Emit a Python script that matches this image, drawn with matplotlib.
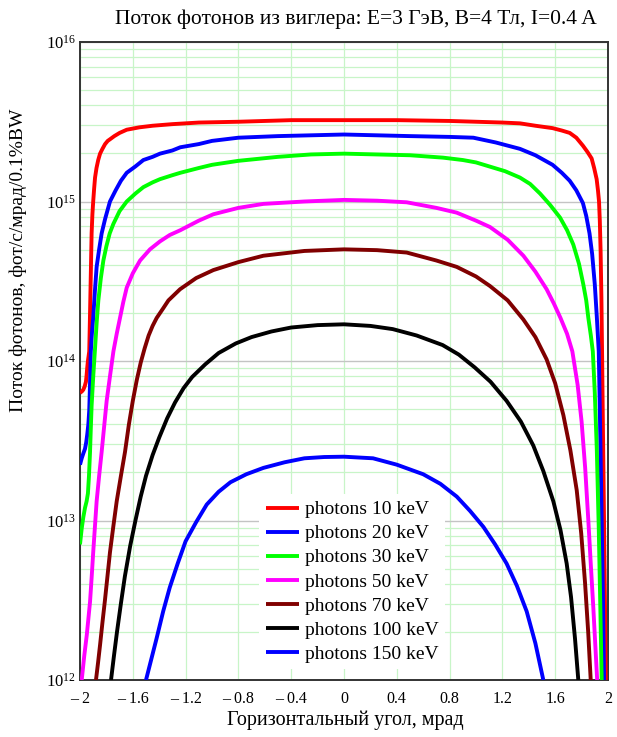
import numpy as np
import matplotlib
matplotlib.use("Agg")
import matplotlib.pyplot as plt
from matplotlib.ticker import LogLocator, NullFormatter

plt.rcParams['font.family'] = ['Liberation Serif', 'DejaVu Serif']
plt.rcParams['mathtext.fontset'] = 'custom'
plt.rcParams['mathtext.rm'] = 'Liberation Serif'
plt.rcParams['mathtext.it'] = 'Liberation Serif:italic'

# ---- data: horizontal angle (mrad) and log10(flux) ----
x_10 = [-2.0, -1.985, -1.975, -1.965, -1.955, -1.95, -1.945, -1.94, -1.935, -1.93, -1.924, -1.918, -1.912, -1.906,
        -1.9, -1.893, -1.886, -1.875, -1.862, -1.848, -1.83, -1.81, -1.79, -1.773, -1.74, -1.7, -1.646, -1.55,
        -1.45, -1.3, -1.1, -0.8, -0.4, 0.0, 0.4, 0.8, 1.0, 1.2, 1.333, 1.45, 1.58, 1.65, 1.71, 1.76, 1.81, 1.845,
        1.876, 1.895, 1.914, 1.924, 1.932, 1.938, 1.944, 1.95, 1.955, 1.962, 1.97, 1.977, 1.983]
lg_10 = [13.80, 13.81, 13.82, 13.84, 13.87, 13.91, 13.96, 14.0, 14.03, 14.06, 14.3, 14.55, 14.80, 14.92,
         15.0, 15.08, 15.15, 15.21, 15.26, 15.30, 15.33, 15.36, 15.38, 15.39, 15.41, 15.43, 15.45, 15.465,
         15.475, 15.485, 15.495, 15.50, 15.51, 15.51, 15.51, 15.505, 15.50, 15.495, 15.49, 15.475, 15.46, 15.445,
         15.43, 15.40, 15.35, 15.31, 15.27, 15.21, 15.14, 15.07, 15.0, 14.88, 14.69, 14.4, 14.06, 13.55, 13.0,
         12.5, 12.0]

x_20 = [-2.0, -1.987, -1.975, -1.962, -1.953, -1.945, -1.937, -1.93, -1.924, -1.918, -1.91, -1.9, -1.887, -1.874,
        -1.855, -1.836, -1.81, -1.773, -1.73, -1.69, -1.646, -1.58, -1.52, -1.45, -1.394, -1.3, -1.24, -1.1, -1.0,
        -0.8, -0.5, 0.0, 0.5, 0.8, 0.98, 1.15, 1.333, 1.45, 1.58, 1.65, 1.71, 1.76, 1.81, 1.835, 1.86, 1.88, 1.90,
        1.915, 1.93, 1.94, 1.952, 1.962, 1.97]
lg_20 = [13.35, 13.39, 13.42, 13.45, 13.49, 13.54, 13.60, 13.69, 13.86, 14.06, 14.17, 14.27, 14.44, 14.59,
         14.70, 14.80, 14.89, 15.0, 15.07, 15.13, 15.18, 15.22, 15.26, 15.28, 15.30, 15.32, 15.34, 15.36, 15.38,
         15.40, 15.41, 15.42, 15.41, 15.405, 15.40, 15.37, 15.33, 15.29, 15.23, 15.18, 15.13, 15.07, 14.99, 14.91,
         14.80, 14.67, 14.48, 14.28, 14.06, 13.6, 13.0, 12.5, 12.0]

x_30 = [-2.0, -1.987, -1.975, -1.962, -1.95, -1.94, -1.932, -1.924, -1.918, -1.912, -1.9, -1.886, -1.873, -1.861,
        -1.842, -1.823, -1.8, -1.775, -1.747, -1.7, -1.646, -1.58, -1.52, -1.45, -1.394, -1.3, -1.24, -1.1, -1.0,
        -0.8, -0.5, -0.25, 0.0, 0.25, 0.5, 0.75, 0.9, 1.0, 1.1, 1.22, 1.333, 1.41, 1.485, 1.56, 1.636, 1.69, 1.737,
        1.78, 1.813, 1.835, 1.851, 1.87, 1.885, 1.9, 1.915, 1.93, 1.942, 1.952]
lg_30 = [12.85, 12.95, 13.02, 13.08, 13.12, 13.17, 13.28, 13.43, 13.58, 13.72, 13.90, 14.08, 14.25, 14.38,
         14.52, 14.63, 14.72, 14.80, 14.86, 14.94, 15.0, 15.05, 15.09, 15.12, 15.14, 15.165, 15.18, 15.21, 15.23,
         15.255, 15.28, 15.295, 15.30, 15.295, 15.29, 15.275, 15.26, 15.245, 15.22, 15.19, 15.15, 15.11, 15.05,
         14.98, 14.90, 14.82, 14.73, 14.61, 14.48, 14.38, 14.27, 14.16, 14.06, 13.8, 13.45, 12.95, 12.45, 12.0]

x_50 = [-1.987, -1.968, -1.949, -1.937, -1.924, -1.912, -1.9, -1.887, -1.874, -1.855, -1.836, -1.817, -1.798,
        -1.772, -1.747, -1.722, -1.697, -1.672, -1.646, -1.6, -1.545, -1.47, -1.394, -1.32, -1.24, -1.1, -0.99,
        -0.8, -0.611, -0.3, 0.0, 0.25, 0.475, 0.7, 0.854, 1.0, 1.106, 1.24, 1.359, 1.45, 1.535, 1.59, 1.64, 1.69,
        1.73, 1.77, 1.80, 1.827, 1.851, 1.87, 1.889, 1.905, 1.918]
lg_50 = [12.0, 12.15, 12.28, 12.38, 12.49, 12.64, 12.80, 12.96, 13.12, 13.28, 13.43, 13.59, 13.75,
         13.91, 14.06, 14.17, 14.27, 14.37, 14.46, 14.55, 14.63, 14.70, 14.75, 14.79, 14.82, 14.88, 14.92,
         14.96, 14.985, 15.0, 15.01, 15.005, 14.995, 14.96, 14.93, 14.88, 14.84, 14.76, 14.66, 14.56, 14.45, 14.36,
         14.27, 14.17, 14.06, 13.85, 13.62, 13.33, 13.0, 12.72, 12.45, 12.2, 12.0]

x_70 = [-1.879, -1.863, -1.848, -1.83, -1.811, -1.792, -1.773, -1.748, -1.722, -1.69, -1.659, -1.63, -1.6, -1.57,
        -1.54, -1.51, -1.48, -1.45, -1.419, -1.37, -1.33, -1.242, -1.12, -0.99, -0.8, -0.611, -0.3, 0.0, 0.25,
        0.475, 0.7, 0.854, 1.0, 1.106, 1.24, 1.359, 1.45, 1.535, 1.6, 1.662, 1.715, 1.763, 1.797, 1.826, 1.85,
        1.869]
lg_70 = [12.0, 12.11, 12.22, 12.36, 12.5, 12.65, 12.80, 12.96, 13.12, 13.28, 13.43, 13.6, 13.75, 13.88,
         13.99, 14.08, 14.16, 14.22, 14.27, 14.33, 14.38, 14.45, 14.52, 14.57, 14.62, 14.66, 14.69, 14.70, 14.695,
         14.68, 14.63, 14.59, 14.53, 14.47, 14.38, 14.26, 14.15, 14.01, 13.86, 13.66, 13.44, 13.19, 12.92, 12.61,
         12.3, 12.0]

x_100 = [-1.765, -1.743, -1.72, -1.69, -1.66, -1.62, -1.58, -1.54, -1.5, -1.45, -1.4, -1.34, -1.28, -1.215, -1.15,
         -1.05, -0.95, -0.82, -0.7, -0.55, -0.4, -0.2, 0.0, 0.2, 0.369, 0.55, 0.747, 0.87, 0.99, 1.11, 1.232, 1.34,
         1.434, 1.51, 1.586, 1.64, 1.687, 1.72, 1.75, 1.775]
lg_100 = [12.0, 12.15, 12.3, 12.48, 12.65, 12.84, 13.0, 13.15, 13.28, 13.41, 13.52, 13.64, 13.74, 13.83, 13.9,
          13.98, 14.05, 14.11, 14.15, 14.185, 14.21, 14.225, 14.23, 14.22, 14.20, 14.16, 14.10, 14.04, 13.96, 13.87,
          13.75, 13.62, 13.47, 13.31, 13.12, 12.94, 12.73, 12.52, 12.26, 12.0]

x_150 = [-1.5, -1.46, -1.42, -1.37, -1.32, -1.26, -1.2, -1.12, -1.04, -0.95, -0.86, -0.74, -0.61, -0.45, -0.3,
         -0.15, 0.0, 0.22, 0.4, 0.6, 0.73, 0.854, 0.955, 1.056, 1.145, 1.232, 1.31, 1.384, 1.45, 1.51]
lg_150 = [12.0, 12.13, 12.26, 12.43, 12.58, 12.73, 12.87, 12.99, 13.10, 13.18, 13.24, 13.29, 13.33, 13.365, 13.39,
          13.398, 13.40, 13.39, 13.35, 13.29, 13.23, 13.15, 13.06, 12.96, 12.85, 12.73, 12.59, 12.43, 12.23, 12.0]

series_labels = ['photons 10 keV', 'photons 20 keV', 'photons 30 keV', 'photons 50 keV',
                 'photons 70 keV', 'photons 100 keV', 'photons 150 keV']
series_colors = ['#ff0000', '#0000ff', '#00ff00', '#ff00ff', '#800000', '#000000', '#0000ff']

x_ticks = [-2.0, -1.6, -1.2, -0.8, -0.4, 0.0, 0.4, 0.8, 1.2, 1.6, 2.0]
x_ticklabels = ['– 2', '– 1.6', '– 1.2', '– 0.8', '– 0.4', '0', '0.4', '0.8', '1.2', '1.6', '2']
y_ticks = [1e12, 1e13, 1e14, 1e15, 1e16]
y_ticklabels = [r'$10^{12}$', r'$10^{13}$', r'$10^{14}$', r'$10^{15}$', r'$10^{16}$']

xs = [x_10, x_20, x_30, x_50, x_70, x_100, x_150]
lgs = [lg_10, lg_20, lg_30, lg_50, lg_70, lg_100, lg_150]

W, H = 617, 737
fig = plt.figure(figsize=(W / 100, H / 100), dpi=100)
L, R, T, B = 80, 608, 42, 680
ax = fig.add_axes([L / W, 1 - B / H, (R - L) / W, (B - T) / H])

ax.set_yscale('log')
ax.set_xlim(-2, 2)
ax.set_ylim(1e12, 1e16)

handles = []
for x, lg, lab, col in zip(xs, lgs, series_labels, series_colors):
    h, = ax.plot(x, 10 ** np.array(lg), color=col, lw=2.8, label=lab,
                 solid_joinstyle='round', solid_capstyle='butt', zorder=3)
    handles.append(h)

# grid
ax.set_xticks(x_ticks)
ax.set_xticklabels(x_ticklabels, fontsize=11.5)
ax.set_yticks(y_ticks)
ax.set_yticklabels(y_ticklabels, fontsize=12)
ax.yaxis.set_minor_locator(LogLocator(base=10, subs=np.arange(2, 10), numticks=50))
ax.yaxis.set_minor_formatter(NullFormatter())
ax.grid(True, which='major', axis='x', color='#c8f5c8', lw=0.9, zorder=0)
ax.grid(True, which='major', axis='y', color='#c4c4c4', lw=1.0, zorder=0)
ax.grid(True, which='minor', axis='y', color='#c8f5c8', lw=0.9, zorder=0)
ax.tick_params(which='both', length=0)
ax.tick_params(axis='x', pad=8)
ax.tick_params(axis='y', pad=3)
ax.set_axisbelow(True)
for s in ax.spines.values():
    s.set_color('#333333')
    s.set_linewidth(1.4)

ax.set_xlabel('Горизонтальный угол, мрад', fontsize=14.5)
ax.xaxis.set_label_coords(0.502, -0.048)
ax.set_ylabel('Поток фотонов, фот/с/мрад/0.1%BW', fontsize=14)
ax.yaxis.set_label_coords(-0.1, 0.658)
ax.text(0.523, 1.036, 'Поток фотонов из виглера: E=3 ГэВ, B=4 Тл, I=0.4 A', transform=ax.transAxes,
        ha='center', va='center', fontsize=15.5)

leg = ax.legend(handles=handles, loc='upper left', bbox_to_anchor=(0.339, 0.2915), borderaxespad=0,
                fontsize=14, frameon=True, fancybox=False, edgecolor='none', facecolor='white', framealpha=1,
                handlelength=1.7, handletextpad=0.3, labelspacing=0.33, borderpad=0.35)
leg.set_zorder(5)

fig.savefig('out.png', dpi=100)
